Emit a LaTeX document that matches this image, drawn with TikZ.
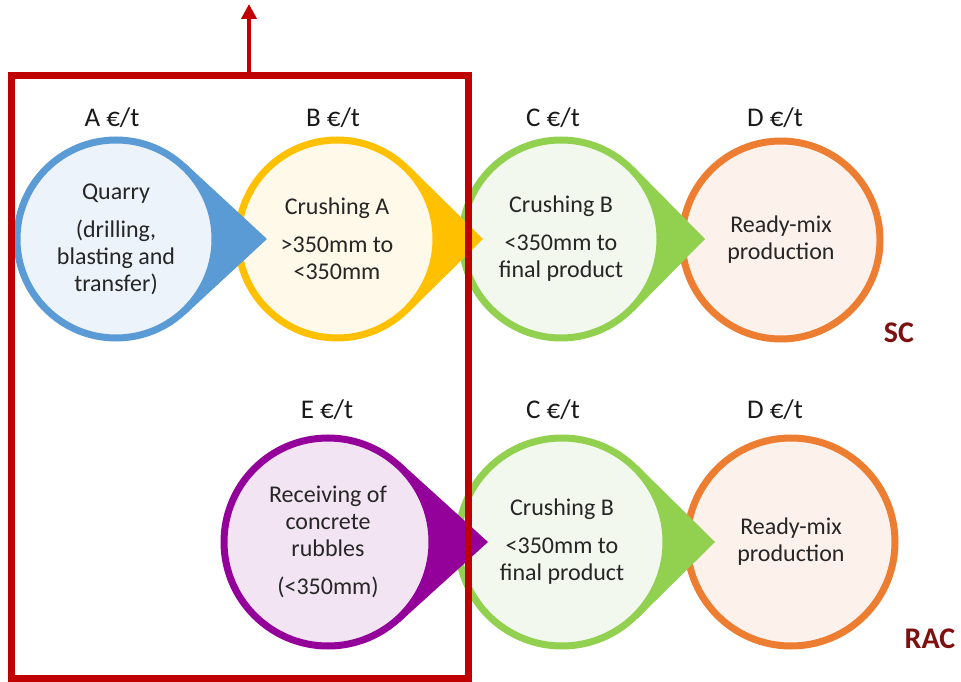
\documentclass[tikz,border=0pt]{standalone}
\usepackage{fontspec}
\setmainfont{Carlito}
\usetikzlibrary{arrows.meta}

\definecolor{quarryc}{HTML}{5B9BD5}
\definecolor{quarryf}{HTML}{EDF3FB}
\definecolor{crushac}{HTML}{FFC000}
\definecolor{crushaf}{HTML}{FFF9EA}
\definecolor{crushbc}{HTML}{92D050}
\definecolor{crushbf}{HTML}{F2F8EE}
\definecolor{mixc}{HTML}{ED7D31}
\definecolor{mixf}{HTML}{FDF1EB}
\definecolor{rubblec}{HTML}{93009A}
\definecolor{rubblef}{HTML}{F3E4F3}
\definecolor{boxred}{HTML}{C00000}
\definecolor{tagred}{HTML}{7F1010}

\begin{document}
\begin{tikzpicture}[x=1pt,y=1pt,
  stage/.style={circle,line width=7pt,minimum size=#1,inner sep=0pt,
    align=center,font=\fontsize{24}{27}\selectfont,text=black!85},
  price/.style={anchor=base,font=\fontsize{27}{30}\selectfont,text=black!90},
  tag/.style={anchor=base,font=\fontsize{30}{34}\selectfont\bfseries,text=tagred}]
\useasboundingbox (0,0) rectangle (961,681);

% top row (SC), drawn right to left
\coordinate (cq) at (116,442);
\coordinate (ca) at (337,442);
\coordinate (cb) at (561,442);
\coordinate (tq) at (267,442);
\coordinate (ta) at (483,442);
\coordinate (tb) at (705,442);

\node[stage=198pt,draw=mixc,fill=mixf] (mix) at (781,441) {Ready-mix\\production};

\fill[crushbc] (tb) -- ([shift={(44.6:102.5)}]cb) -- ([shift={(-44.6:102.5)}]cb) -- cycle;
\node[stage=198pt,draw=crushbc,fill=crushbf] (crushB) at (cb)
  {Crushing B\\[11pt]<350mm to\\final product};

\fill[crushac] (ta) -- ([shift={(45.4:102.5)}]ca) -- ([shift={(-45.4:102.5)}]ca) -- cycle;
\node[stage=198pt,draw=crushac,fill=crushaf] (crushA) at (ca)
  {Crushing A\\[11pt]>350mm to\\<350mm};

\fill[quarryc] (tq) -- ([shift={(47.2:102.5)}]cq) -- ([shift={(-47.2:102.5)}]cq) -- cycle;
\node[stage=198pt,draw=quarryc,fill=quarryf] (quarry) at (cq)
  {Quarry\\[11pt](drilling,\\blasting and\\transfer)};

% bottom row (RAC)
\coordinate (cr) at (328,139);
\coordinate (cb2) at (562,139);
\coordinate (tr) at (488,139);
\coordinate (tb2) at (715,139);

\node[stage=208pt,draw=mixc,fill=mixf] (mix2) at (791,139) {Ready-mix\\production};

\fill[crushbc] (tb2) -- ([shift={(45.3:107.5)}]cb2) -- ([shift={(-45.3:107.5)}]cb2) -- cycle;
\node[stage=208pt,draw=crushbc,fill=crushbf] (crushB2) at (cb2)
  {Crushing B\\[11pt]<350mm to\\final product};

\fill[rubblec] (tr) -- ([shift={(47.8:107.5)}]cr) -- ([shift={(-47.8:107.5)}]cr) -- cycle;
\node[stage=208pt,draw=rubblec,fill=rubblef] (receive) at (cr)
  {Receiving of\\concrete\\rubbles\\[11pt](<350mm)};

% prices
\node[price] (pa) at (112,554) {A €/t};
\node[price] (pb) at (333,554) {B €/t};
\node[price] (pc) at (553,554) {C €/t};
\node[price] (pd) at (775,554) {D €/t};
\node[price] (pe) at (327,263) {E €/t};
\node[price] (pc2) at (553,263) {C €/t};
\node[price] (pd2) at (775,263) {D €/t};

\node[tag] (sc) at (899,338) {SC};
\node[tag] (rac) at (930,33) {RAC};

% primary part box
\node[draw=boxred,line width=7pt,outer sep=0pt,minimum width=457pt,
  minimum height=602pt] (box) at (239.5,304) {};
\coordinate (up) at (249,677);
\draw[boxred,line width=4pt,-{Triangle[width=15pt,length=15pt]}] (up |- box.north) -- (up);
\end{tikzpicture}
\end{document}
